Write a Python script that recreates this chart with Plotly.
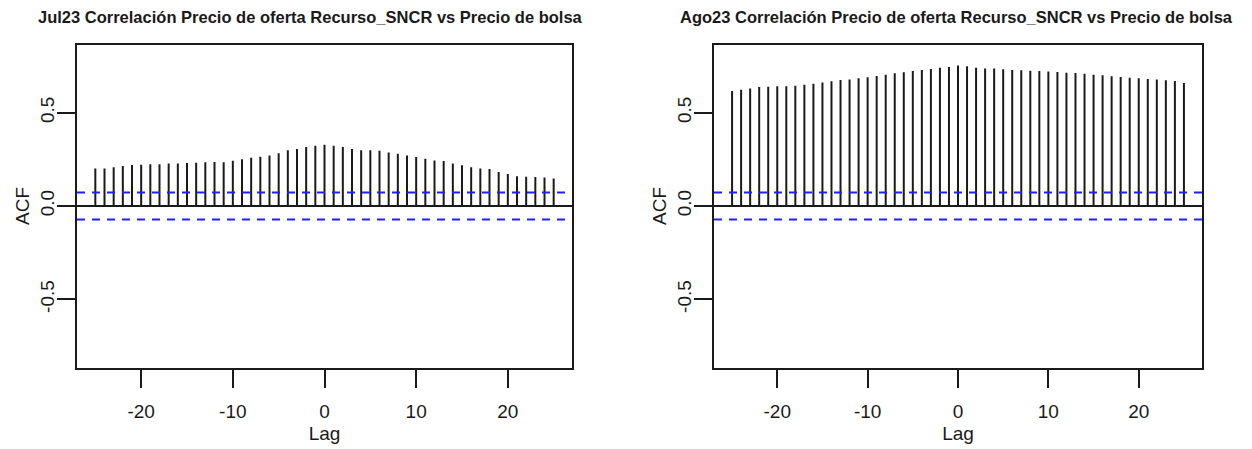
import plotly.graph_objects as go

lags = list(range(-25, 26))

jul_acf = [0.201, 0.201, 0.207, 0.214, 0.219, 0.221, 0.223, 0.223, 0.227, 0.227,
           0.230, 0.232, 0.234, 0.235, 0.234, 0.243, 0.251, 0.259, 0.264, 0.271,
           0.283, 0.298, 0.305, 0.316, 0.323, 0.328,
           0.323, 0.316, 0.305, 0.299, 0.299, 0.296, 0.286, 0.280, 0.271, 0.262,
           0.253, 0.244, 0.241, 0.228, 0.218, 0.207, 0.201, 0.198, 0.182, 0.171,
           0.160, 0.157, 0.155, 0.153, 0.147]

ago_acf = [0.616, 0.623, 0.630, 0.637, 0.639, 0.641, 0.641, 0.644, 0.650, 0.655,
           0.662, 0.668, 0.675, 0.678, 0.684, 0.689, 0.696, 0.703, 0.711, 0.716,
           0.723, 0.728, 0.734, 0.741, 0.745, 0.752,
           0.748, 0.741, 0.737, 0.736, 0.732, 0.728, 0.727, 0.725, 0.723, 0.721,
           0.718, 0.714, 0.712, 0.709, 0.703, 0.700, 0.695, 0.691, 0.687, 0.684,
           0.680, 0.677, 0.673, 0.670, 0.659]

conf_limit = 0.0719
titles = ["Jul23 Correlación Precio de oferta Recurso_SNCR vs Precio de bolsa",
          "Ago23 Correlación Precio de oferta Recurso_SNCR vs Precio de bolsa"]
x_ticks = [-20, -10, 0, 10, 20]
x_tick_text = ["-20", "-10", "0", "10", "20"]
y_ticks = [-0.5, 0.0, 0.5]
y_tick_text = ["-0.5", "0.0", "0.5"]

W, H = 1252, 449
ink = "#1a1a1a"
font = "Liberation Sans, Arial, sans-serif"

fig = go.Figure()

domains_x = [[77 / W, 572 / W], [714 / W, 1202 / W]]
dom_y = [1 - 367.5 / H, 1 - 44.5 / H]
title_cx = [310 / W, 956 / W]

for i, vals in enumerate([jul_acf, ago_acf]):
    xs, ys = [], []
    for l, v in zip(lags, vals):
        xs += [l, l, None]
        ys += [0, v, None]
    xa = "x" if i == 0 else "x2"
    ya = "y" if i == 0 else "y2"
    fig.add_trace(go.Scatter(x=xs, y=ys, mode="lines", xaxis=xa, yaxis=ya,
                             line=dict(color=ink, width=2), showlegend=False,
                             hoverinfo="skip"))
    for c in (conf_limit, -conf_limit):
        fig.add_shape(type="line", xref=f"{xa} domain", yref=ya, x0=0, x1=1,
                      y0=c, y1=c, line=dict(color="#2020ff", width=2, dash="8px,7px"))
    fig.add_shape(type="line", xref=f"{xa} domain", yref=ya, x0=0, x1=1,
                  y0=0, y1=0, line=dict(color=ink, width=2))

    ax_common = dict(showline=True, mirror=True, linecolor=ink, linewidth=2,
                     showgrid=False, zeroline=False, ticks="outside", ticklen=18,
                     tickwidth=2, tickcolor=ink,
                     tickfont=dict(family=font, size=19, color=ink))
    xkey = "xaxis" if i == 0 else "xaxis2"
    ykey = "yaxis" if i == 0 else "yaxis2"
    fig.update_layout({
        xkey: dict(ax_common, domain=domains_x[i], range=[-27, 27],
                   tickvals=x_ticks, ticktext=x_tick_text, ticklabelstandoff=8,
                   anchor=ya,
                   title=dict(text="Lag", standoff=5,
                              font=dict(family=font, size=19, color=ink))),
        ykey: dict(ax_common, domain=dom_y, range=[-0.865, 0.865],
                   tickvals=y_ticks, ticktext=y_tick_text, tickangle=-90,
                   anchor=xa, ticklabelstandoff=-5,
                   title=dict(text="ACF", standoff=3,
                              font=dict(family=font, size=19, color=ink))),
    })
    fig.add_annotation(text=f"<b>{titles[i]}</b>", xref="paper", yref="paper",
                       x=title_cx[i], y=1 - 17 / H, xanchor="center", yanchor="middle",
                       showarrow=False,
                       font=dict(family=font, size=16.5, color=ink))

fig.update_layout(width=W, height=H, margin=dict(l=0, r=0, t=0, b=0),
                  plot_bgcolor="white", paper_bgcolor="white")

fig.write_html("out.html")
